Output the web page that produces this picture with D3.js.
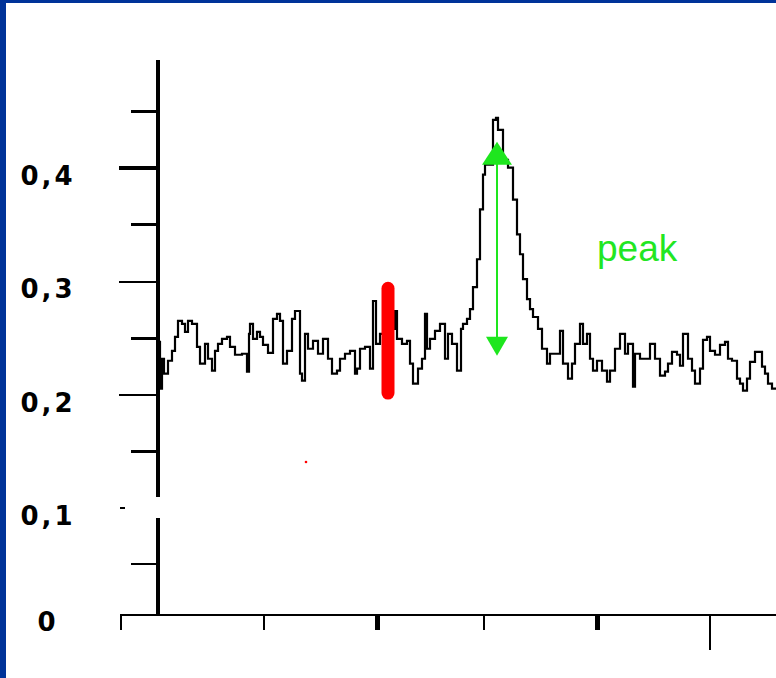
<!DOCTYPE html>
<html lang='en'>

<head>
    <meta charset='UTF-8'>
    <title>Peak</title>
    <script src='https://cdn.jsdelivr.net/npm/d3@7/dist/d3.min.js'></script>
    <style>
        body {
            margin: 0;
            background: #003399;
        }

        .axis path,
        .axis line {
            fill: none;
            stroke: #000;
            shape-rendering: crispEdges;
        }

        .trace {
            fill: none;
            stroke: #000;
            stroke-width: 2.2;
            stroke-linejoin: miter;
        }

        .ylabel {
            font-family: 'DejaVu Sans', sans-serif;
            font-weight: bold;
            font-size: 26px;
            letter-spacing: 3px;
        }

        .peak-label {
            font-family: 'Liberation Sans', Arial, sans-serif;
            font-size: 37px;
            fill: #22e622;
        }
    </style>
</head>

<body>
    <script>
        // trace: channel (x) and signal (y)
        const channel = [0, 2, 4, 6, 10, 14, 17, 20, 24, 27, 30, 34, 39, 42, 47, 50, 54, 57, 60, 64,
            69, 72, 77, 84, 89, 91, 92, 95, 99, 102, 105, 110, 115, 119, 122, 125, 129, 134, 137, 142,
            144, 147, 150, 155, 160, 165, 170, 174, 179, 182, 187, 192, 197, 199, 202, 207, 212, 215, 218, 222,
            226, 230, 234, 237, 239, 244, 249, 252, 255, 260, 264, 267, 269, 272, 277, 282, 287, 290, 294, 299,
            303, 305, 309, 312, 315, 319, 322, 325, 327, 335, 338, 340, 345, 350, 355, 359, 362, 365, 369, 372,
            375, 380, 384, 389, 392, 402, 405, 410, 414, 417, 422, 425, 429, 432, 435, 439, 444, 449, 452, 457,
            462, 467, 470, 475, 477, 482, 492, 497, 502, 507, 510, 514, 519, 522, 525, 530, 534, 537, 542, 545,
            549, 552, 557, 562, 567, 570, 574, 579, 582, 585, 589, 592, 597, 604, 607, 610, 614, 618];
        const signal = [0.2465, 0.2053, 0.2316, 0.2184, 0.2298, 0.2386, 0.2509, 0.2649, 0.2623, 0.2553, 0.2649, 0.2623, 0.2421, 0.2272, 0.2447, 0.2316, 0.2211, 0.2386, 0.2447, 0.2491,
            0.2509, 0.2421, 0.2351, 0.2360, 0.2202, 0.2535, 0.2623, 0.2491, 0.2553, 0.2509, 0.2439, 0.2368, 0.2667, 0.2711, 0.2649, 0.2272, 0.2386, 0.2667, 0.2737, 0.2184,
            0.2123, 0.2535, 0.2404, 0.2474, 0.2360, 0.2491, 0.2316, 0.2184, 0.2211, 0.2316, 0.2360, 0.2386, 0.2184, 0.2228, 0.2404, 0.2421, 0.2228, 0.2825, 0.2447, 0.2535,
            0.2623, 0.2491, 0.2579, 0.2737, 0.2491, 0.2447, 0.2474, 0.2272, 0.2096, 0.2228, 0.2316, 0.2711, 0.2404, 0.2491, 0.2561, 0.2623, 0.2316, 0.2535, 0.2447, 0.2211,
            0.2579, 0.2623, 0.2667, 0.2754, 0.2947, 0.3193, 0.3632, 0.3939, 0.4026, 0.4421, 0.4439, 0.4333, 0.4070, 0.4000, 0.3719, 0.3412, 0.3237, 0.3018, 0.2842, 0.2754,
            0.2684, 0.2579, 0.2404, 0.2272, 0.2360, 0.2561, 0.2272, 0.2140, 0.2272, 0.2447, 0.2623, 0.2447, 0.2535, 0.2316, 0.2211, 0.2298, 0.2211, 0.2114, 0.2211, 0.2404,
            0.2535, 0.2360, 0.2447, 0.2070, 0.2360, 0.2316, 0.2447, 0.2316, 0.2167, 0.2202, 0.2272, 0.2377, 0.2351, 0.2254, 0.2535, 0.2316, 0.2211, 0.2096, 0.2228, 0.2482,
            0.2509, 0.2386, 0.2351, 0.2439, 0.2465, 0.2316, 0.2298, 0.2140, 0.2096, 0.2035, 0.2140, 0.2289, 0.2377, 0.2246, 0.2184, 0.2096, 0.2053, 0.2053];

        // axis ticks and labels
        const majorTicks = [0.2, 0.3, 0.4];
        const minorTicks = [0.05, 0.15, 0.25, 0.35, 0.45];
        const labelTicks = [0, 0.1, 0.2, 0.3, 0.4];
        const labelText = ['0', '0,1', '0,2', '0,3', '0,4'];
        const xTicks = [105, 219, 325, 439, 551];

        // annotations
        const marker = { channel: 230, from: 0.196, to: 0.299 };
        const dot = { channel: 148, value: 0.1406 };
        const peakArrow = { channel: 339, top: 0.4228, bottom: 0.2342 };
        const peakLabel = { channel: 439, value: 0.3175, text: 'peak' };

        const width = 776, height = 678;

        const svg = d3.select('body')
            .append('svg')
            .attr('width', width)
            .attr('height', height)
            .style('display', 'block');

        svg.append('rect')
            .attr('x', 6).attr('y', 3)
            .attr('width', width).attr('height', height)
            .attr('fill', '#fff');

        // broken y axis: the 0 - 0.1 part is stretched a bit
        const yScale = d3.scaleLinear()
            .domain([0, 0.05, 0.1, 0.45])
            .range([614, 563, 508, 111]);

        const xScale = d3.scaleLinear()
            .domain([-38, 618])
            .range([120, 776]);

        const x0 = xScale(0);

        // y axis line, two pieces around the break
        const yAxisLine = svg.append('g').attr('class', 'axis');
        [[0.495, 0.1097], [0.0909, 0]].forEach(([a, b]) => {
            yAxisLine.append('line')
                .attr('x1', x0).attr('x2', x0)
                .attr('y1', yScale(a)).attr('y2', yScale(b))
                .attr('stroke-width', 4);
        });

        svg.append('g')
            .attr('class', 'axis')
            .attr('transform', `translate(${x0 - 1},0)`)
            .call(d3.axisLeft(yScale).tickValues(majorTicks).tickSize(38).tickFormat(''))
            .call(g => g.select('.domain').remove())
            .selectAll('line').attr('stroke-width', (d, i) => i === 2 ? 4 : 2);

        svg.append('g')
            .attr('class', 'axis')
            .attr('transform', `translate(${x0 - 1},0)`)
            .call(d3.axisLeft(yScale).tickValues(minorTicks).tickSize(26).tickFormat(''))
            .call(g => g.select('.domain').remove())
            .selectAll('line').attr('stroke-width', (d, i) => i === 0 ? 2 : 3);

        // the 0.1 tick only shows as a stub left of the break
        svg.append('line')
            .attr('x1', xScale(-38)).attr('x2', xScale(-33))
            .attr('y1', yScale(0.1)).attr('y2', yScale(0.1))
            .attr('stroke', '#000').attr('stroke-width', 2);

        svg.selectAll('.ylabel')
            .data(labelTicks)
            .enter().append('text')
            .attr('class', 'ylabel')
            .attr('x', 48)
            .attr('y', d => yScale(d) + 17)
            .attr('text-anchor', 'middle')
            .text((d, i) => labelText[i]);

        // x axis
        svg.append('g')
            .attr('class', 'axis')
            .attr('transform', `translate(0,${yScale(0)})`)
            .call(d3.axisBottom(xScale).tickValues(xTicks).tickSizeOuter(0).tickSize(16).tickFormat(''))
            .call(g => g.select('.domain').attr('stroke-width', 2))
            .selectAll('.tick line')
            .attr('y2', (d, i) => i === xTicks.length - 1 ? 36 : 16)
            .attr('stroke-width', (d, i) => i % 2 === 1 ? 5 : 2);

        // trace
        const line = d3.line()
            .x((d, i) => xScale(channel[i]))
            .y(d => yScale(d))
            .curve(d3.curveStepAfter);

        svg.append('path')
            .datum(signal)
            .attr('class', 'trace')
            .attr('d', line);

        // red marker bar and dot
        svg.append('line')
            .attr('x1', xScale(marker.channel)).attr('x2', xScale(marker.channel))
            .attr('y1', yScale(marker.from) - 6).attr('y2', yScale(marker.to) + 6)
            .attr('stroke', '#ff0000')
            .attr('stroke-width', 13)
            .attr('stroke-linecap', 'round');

        svg.append('circle')
            .attr('cx', xScale(dot.channel))
            .attr('cy', yScale(dot.value))
            .attr('r', 1.3)
            .attr('fill', '#ff0000');

        // green double arrow
        const green = '#1ee61e';
        const ax = xScale(peakArrow.channel);
        const yTop = yScale(peakArrow.top);
        const yBot = yScale(peakArrow.bottom);

        svg.append('line')
            .attr('x1', ax).attr('x2', ax)
            .attr('y1', yTop + 10).attr('y2', yBot - 10)
            .attr('stroke', green)
            .attr('stroke-width', 2);

        svg.append('path')
            .attr('d', `M${ax},${yTop} L${ax + 15},${yTop + 23} L${ax - 15},${yTop + 23} Z`)
            .attr('fill', green);

        svg.append('path')
            .attr('d', `M${ax},${yBot} L${ax + 11},${yBot - 19} L${ax - 11},${yBot - 19} Z`)
            .attr('fill', green);

        svg.append('text')
            .attr('class', 'peak-label')
            .attr('x', xScale(peakLabel.channel))
            .attr('y', yScale(peakLabel.value))
            .text(peakLabel.text);
    </script>
</body>

</html>
